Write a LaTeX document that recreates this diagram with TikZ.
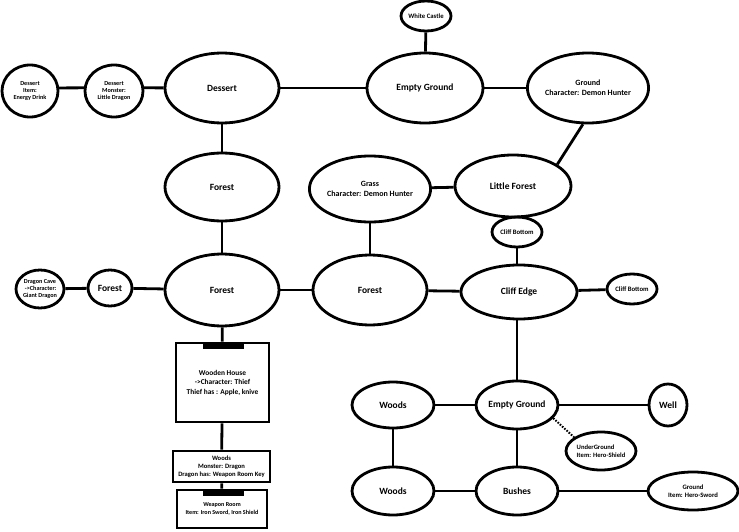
\documentclass[tikz,border=0pt]{standalone}
\usepackage{fontspec}
\setmainfont{Carlito}
\usetikzlibrary{shapes.geometric}
\tikzset{
  loc/.style n args={2}{ellipse, draw, line width=2.8pt, inner sep=0pt, align=center,
    minimum width=#1, minimum height=#2, font=\bfseries\fontsize{9.5}{11}\selectfont},
  mid/.style={font=\bfseries\fontsize{8}{10}\selectfont},
  small/.style={font=\bfseries\fontsize{6.7}{8}\selectfont},
  tiny/.style={font=\bfseries\fontsize{6.2}{7.4}\selectfont},
  room/.style={rectangle, draw, line width=2.8pt, inner sep=0pt, align=center},
  link/.style={line width=2.8pt},
  hidden/.style={line width=2pt, dash pattern=on 1.6pt off 1.4pt},
  bar/.style={fill=black}
}
\begin{document}
\begin{tikzpicture}[x=1pt,y=-1pt]
\useasboundingbox (0,0) rectangle (739,532);
% top row
\node[loc={50pt}{30pt}, small] (wc) at (426,16) {White Castle};
\node[loc={116pt}{70pt}] (eg1) at (425,88) {Empty Ground};
\node[loc={116pt}{70pt}, mid] (gdh) at (588,88) {Ground\\Character: Demon Hunter};
\node[loc={114pt}{70pt}] (des) at (222,88) {Dessert};
\node[loc={58pt}{52pt}, tiny] (dmon) at (114,91) {Dessert\\Monster:\\Little Dragon};
\node[loc={56pt}{52pt}, tiny] (ditem) at (30,91) {Dessert\\Item:\\Energy Drink};
% second row
\node[loc={114pt}{68pt}] (for1) at (222,187) {Forest};
\node[loc={116pt}{66pt}, mid] (grass) at (370,189) {Grass\\Character: Demon Hunter};
\node[loc={116pt}{62pt}] (lf) at (513,186) {Little Forest};
% third row
\node[loc={114pt}{72pt}] (for2) at (222,290) {Forest};
\node[loc={114pt}{70pt}] (for3) at (370,290) {Forest};
\node[loc={116pt}{54pt}] (ce) at (519,292) {Cliff Edge};
\node[loc={50pt}{30pt}, small] (cb1) at (517,232) {Cliff Bottom};
\node[loc={50pt}{30pt}, small] (cb2) at (632,289) {Cliff Bottom};
\node[loc={44pt}{36pt}] (fsm) at (110,288) {Forest};
\node[loc={46pt}{38pt}, tiny] (dc) at (40,289) {Dragon Cave\\\ ->Character:\\Giant Dragon};
% rooms
\node[room, minimum width=93pt, minimum height=79pt, font=\bfseries\fontsize{7.4}{9.5}\selectfont] (wh) at (222.5,382.5) {Wooden House\\->Character: Thief\\Thief has : Apple, knive};
\node[room, minimum width=97pt, minimum height=31pt, font=\bfseries\fontsize{6.6}{8.2}\selectfont] (wds) at (221.5,466.5) {Woods\\Monster: Dragon\\Dragon has: Weapon Room Key};
\node[room, minimum width=90pt, minimum height=38pt, font=\bfseries\fontsize{6.1}{8}\selectfont] (wr) at (222,509) {Weapon Room\\Item: Iron Sword, Iron Shield};
\fill[bar] (203,343) rectangle (244,349);
\fill[bar] (203,490) rectangle (244,496);
% bottom right
\node[loc={82pt}{46pt}] (wd1) at (393,405) {Woods};
\node[loc={82pt}{48pt}] (eg2) at (517,405) {Empty Ground};
\node[loc={38pt}{42pt}] (well) at (668,405) {Well};
\node[loc={70pt}{38pt}, font=\bfseries\fontsize{6.6}{8}\selectfont, align=left] (ug) at (601,451) {UnderGround\\Item: Hero-Shield};
\node[loc={82pt}{48pt}] (wd2) at (393,491) {Woods};
\node[loc={82pt}{48pt}] (bush) at (517,491) {Bushes};
\node[loc={90pt}{38pt}, small] (ghs) at (693,491) {Ground\\Item: Hero-Sword};
% connectors
\draw[link] (ditem.6) -- (dmon.174);
\draw[link] (dmon.6) -- (des);
\draw[link] (des) -- (eg1);
\draw[link] (eg1) -- (gdh);
\draw[link] (eg1) -- (wc);
\draw[link] (gdh.-98) -- (lf.26);
\draw[link] (grass) -- (lf);
\draw[link] (des) -- (for1);
\draw[link] (for1) -- (for2);
\draw[link] (grass) -- (for3);
\draw[link] (dc) -- (fsm);
\draw[link] (fsm) -- (for2);
\draw[link] (for2) -- (for3);
\draw[link] (for3) -- (ce);
\draw[link] (ce) -- (cb2);
\draw[link] (cb1) -- (ce.north -| cb1);
\draw[link] (ce.south -| eg2) -- (eg2);
\draw[link] (for2) -- (wh);
\draw[link] (wh) -- (wds);
\draw[link] (wds) -- (wr);
\draw[link] (wd1) -- (eg2);
\draw[link] (eg2) -- (well);
\draw[link] (wd1) -- (wd2);
\draw[link] (eg2) -- (bush);
\draw[link] (wd2) -- (bush);
\draw[link] (bush) -- (ghs);
\draw[hidden] (eg2.-20) -- (ug.153);
\end{tikzpicture}
\end{document}
